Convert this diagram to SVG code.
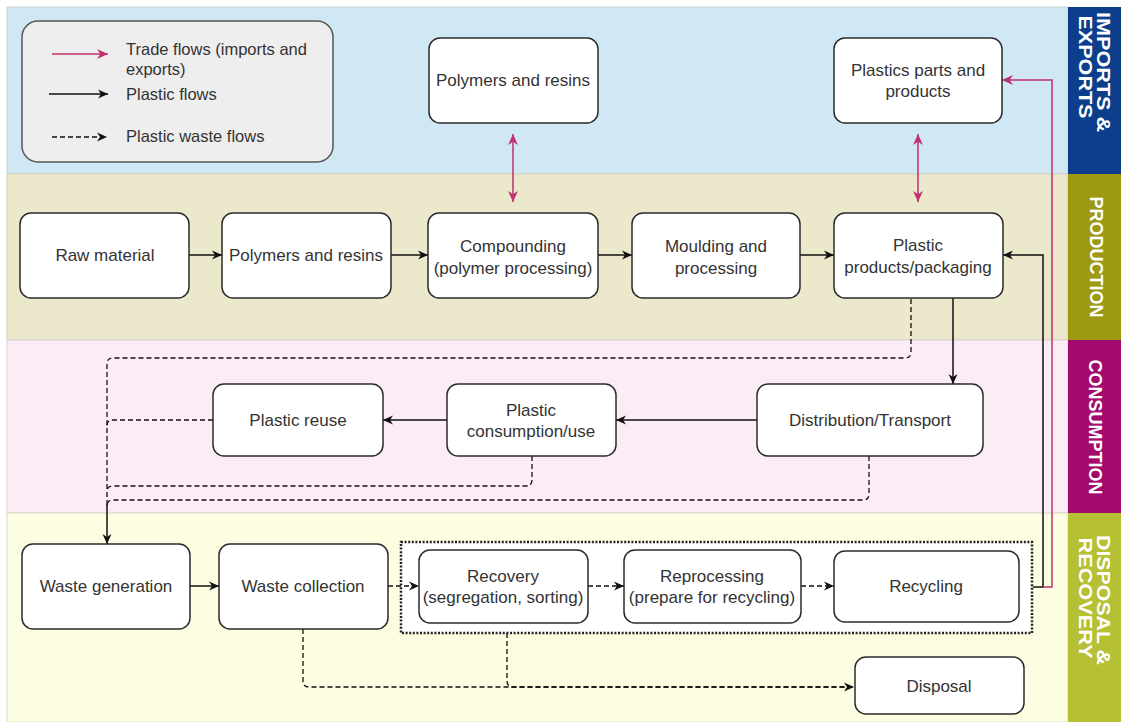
<svg xmlns="http://www.w3.org/2000/svg" width="1121" height="722" viewBox="0 0 1121 722">
<defs>
<marker id="ab" viewBox="0 0 10 10" refX="10" refY="5" markerWidth="10" markerHeight="10" markerUnits="userSpaceOnUse" orient="auto"><path d="M0,0.5 L10,5 L0,9.5 L3,5 Z" fill="#111"/></marker>
<marker id="ap" viewBox="0 0 10 10" refX="10" refY="5" markerWidth="11" markerHeight="11" markerUnits="userSpaceOnUse" orient="auto"><path d="M0,0.5 L10,5 L0,9.5 L3,5 Z" fill="#c2306f"/></marker>
<marker id="apr" viewBox="0 0 10 10" refX="0" refY="5" markerWidth="11" markerHeight="11" markerUnits="userSpaceOnUse" orient="auto"><path d="M10,0.5 L0,5 L10,9.5 L7,5 Z" fill="#c2306f"/></marker>
</defs>
<style>
.node rect{fill:#fff;stroke:#2b2b2b;stroke-width:1.5}
.node text,.lg text{font-family:"Liberation Sans",Arial,sans-serif;font-size:17px;fill:#333;text-anchor:middle}
.lg text{font-size:16.5px;text-anchor:start}
.side text{font-family:"Liberation Sans",Arial,sans-serif;font-size:18px;font-weight:bold;fill:#fff;text-anchor:middle}
.s{fill:none;stroke:#111;stroke-width:1.5}
.d{fill:none;stroke:#111;stroke-width:1.3;stroke-dasharray:5 3}
.p{fill:none;stroke:#c2306f;stroke-width:1.5}
</style>
<rect x="0" y="0" width="1121" height="722" fill="#fff"/>
<g id="lanes">
<rect x="7" y="7" width="1061" height="167" fill="#d0e8f3" stroke="#c9d3d8" stroke-width="1"/>
<rect x="7" y="174" width="1061" height="166" fill="#ebe8cc" stroke="#d3cfb4" stroke-width="1"/>
<rect x="7" y="340" width="1061" height="173" fill="#fcecf6" stroke="#ddcfd6" stroke-width="1"/>
<rect x="7" y="513" width="1061" height="209" fill="#fdfde2" stroke="#dcdcc4" stroke-width="1"/>
</g>
<g id="sidebar" class="side">
<rect x="1068" y="7" width="53" height="167" fill="#0c3e8c"/>
<rect x="1068" y="174" width="53" height="166" fill="#9e9913"/>
<rect x="1068" y="340" width="53" height="173" fill="#a30a6c"/>
<rect x="1068" y="513" width="53" height="209" fill="#b6c034"/>
<text transform="translate(1097,72) rotate(90)" textLength="120" lengthAdjust="spacingAndGlyphs">IMPORTS &amp;</text>
<text transform="translate(1079,67) rotate(90)" textLength="103" lengthAdjust="spacingAndGlyphs">EXPORTS</text>
<text transform="translate(1090,257) rotate(90)">PRODUCTION</text>
<text transform="translate(1089,427) rotate(90)">CONSUMPTION</text>
<text transform="translate(1097,600) rotate(90)" textLength="130" lengthAdjust="spacingAndGlyphs">DISPOSAL &amp;</text>
<text transform="translate(1079,598) rotate(90)" textLength="121" lengthAdjust="spacingAndGlyphs">RECOVERY</text>
</g>
<g id="legend" class="lg">
<rect x="22" y="21" width="311" height="141" rx="16" fill="#eeeeee" stroke="#555" stroke-width="1.5"/>
<line x1="52" y1="54" x2="108" y2="54" class="p" marker-end="url(#ap)"/>
<line x1="49" y1="94" x2="108" y2="94" class="s" marker-end="url(#ab)"/>
<line x1="52" y1="137" x2="107" y2="137" class="d" marker-end="url(#ab)"/>
<text x="126" y="55">Trade flows (imports and</text>
<text x="126" y="75">exports)</text>
<text x="126" y="100">Plastic flows</text>
<text x="126" y="142">Plastic waste flows</text>
</g>
<g id="container">
<rect x="401" y="542" width="631" height="91" fill="#fff" stroke="#222" stroke-width="2.5" stroke-dasharray="2 1.6"/>
</g>
<g id="connectors">
<line x1="513" y1="134" x2="513" y2="202" class="p" marker-start="url(#apr)" marker-end="url(#ap)"/>
<line x1="918" y1="134" x2="918" y2="202" class="p" marker-start="url(#apr)" marker-end="url(#ap)"/>
<line x1="189" y1="255" x2="222" y2="255" class="s" marker-end="url(#ab)"/>
<line x1="391" y1="255" x2="428" y2="255" class="s" marker-end="url(#ab)"/>
<line x1="598" y1="255" x2="632" y2="255" class="s" marker-end="url(#ab)"/>
<line x1="800" y1="255" x2="834" y2="255" class="s" marker-end="url(#ab)"/>
<line x1="953" y1="298" x2="953" y2="384" class="s" marker-end="url(#ab)"/>
<line x1="757" y1="420" x2="616" y2="420" class="s" marker-end="url(#ab)"/>
<line x1="447" y1="420" x2="383" y2="420" class="s" marker-end="url(#ab)"/>
<path d="M911,299 V352 Q911,358 905,358 H113 Q107,358 107,364 V505" class="d"/>
<path d="M213,420 H113 Q107,420 107,426" class="d"/>
<path d="M532,456 V480 Q532,486 526,486 H113 Q107,486 107,492" class="d"/>
<path d="M869,456 V494 Q869,500 863,500 H113 Q107,500 107,506" class="d"/>
<line x1="107" y1="504" x2="107" y2="544" class="s" marker-end="url(#ab)"/>
<line x1="190" y1="586" x2="219" y2="586" class="s" marker-end="url(#ab)"/>
<line x1="388" y1="586" x2="419" y2="586" class="d" marker-end="url(#ab)"/>
<line x1="588" y1="586" x2="624" y2="586" class="d" marker-end="url(#ab)"/>
<line x1="801" y1="586" x2="834" y2="586" class="d" marker-end="url(#ab)"/>
<path d="M303,629 V681 Q303,687 309,687 H854" class="d" marker-end="url(#ab)"/>
<path d="M507,633 V681 Q507,687 513,687 H854" class="d"/>
<path d="M1033,587 H1043 V255 H1003" class="s" marker-end="url(#ab)"/>
<path d="M1043,587 H1052 V80 H1002" class="p" marker-end="url(#ap)"/>
</g>
<g id="n-polymers-trade" class="node"><rect x="429" y="38" width="169" height="85" rx="11"/><text x="513" y="86">Polymers and resins</text></g>
<g id="n-parts-trade" class="node"><rect x="834" y="38" width="168" height="85" rx="11"/><text x="918" y="76">Plastics parts and</text><text x="918" y="97">products</text></g>
<g id="n-raw" class="node"><rect x="20" y="213" width="169" height="85" rx="11"/><text x="105" y="261">Raw material</text></g>
<g id="n-polymers" class="node"><rect x="222" y="213" width="169" height="85" rx="11"/><text x="306" y="261">Polymers and resins</text></g>
<g id="n-compounding" class="node"><rect x="428" y="213" width="170" height="85" rx="11"/><text x="513" y="252">Compounding</text><text x="513" y="274">(polymer processing)</text></g>
<g id="n-moulding" class="node"><rect x="632" y="213" width="168" height="85" rx="11"/><text x="716" y="252">Moulding and</text><text x="716" y="274">processing</text></g>
<g id="n-products" class="node"><rect x="834" y="213" width="169" height="85" rx="11"/><text x="918" y="251">Plastic</text><text x="918" y="273">products/packaging</text></g>
<g id="n-distribution" class="node"><rect x="757" y="384" width="226" height="72" rx="11"/><text x="870" y="426">Distribution/Transport</text></g>
<g id="n-consumption" class="node"><rect x="447" y="384" width="169" height="72" rx="11"/><text x="531" y="416">Plastic</text><text x="531" y="437">consumption/use</text></g>
<g id="n-reuse" class="node"><rect x="213" y="384" width="170" height="72" rx="11"/><text x="298" y="426">Plastic reuse</text></g>
<g id="n-waste-gen" class="node"><rect x="22" y="544" width="168" height="85" rx="11"/><text x="106" y="592">Waste generation</text></g>
<g id="n-waste-col" class="node"><rect x="219" y="544" width="169" height="85" rx="11"/><text x="303" y="592">Waste collection</text></g>
<g id="n-recovery" class="node"><rect x="419" y="550" width="169" height="73" rx="11"/><text x="503" y="582">Recovery</text><text x="503" y="603">(segregation, sorting)</text></g>
<g id="n-reprocessing" class="node"><rect x="624" y="550" width="177" height="73" rx="11"/><text x="712" y="582">Reprocessing</text><text x="712" y="603">(prepare for recycling)</text></g>
<g id="n-recycling" class="node"><rect x="834" y="551" width="185" height="71" rx="11"/><text x="926" y="592">Recycling</text></g>
<g id="n-disposal" class="node"><rect x="855" y="657" width="169" height="57" rx="11"/><text x="939" y="692">Disposal</text></g>
</svg>
